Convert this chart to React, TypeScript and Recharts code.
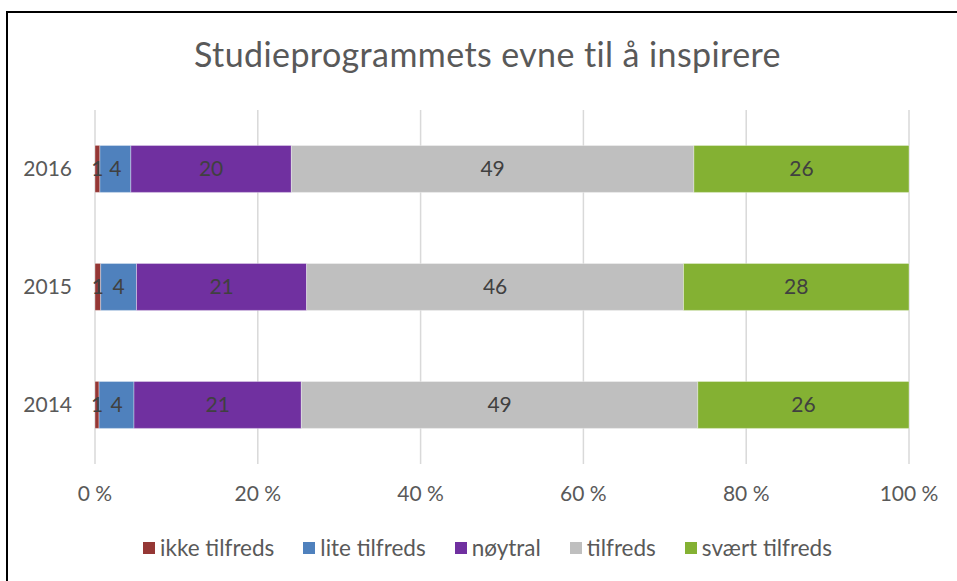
import React from "react";
import { BarChart, Bar, XAxis, YAxis, CartesianGrid, LabelList } from "recharts";

const years = ["2016", "2015", "2014"];
const ikkeTilfreds = [0.6, 0.7, 0.5];
const liteTilfreds = [3.8, 4.4, 4.3];
const noytral = [19.7, 20.9, 20.6];
const tilfreds = [49.4, 46.3, 48.8];
const svaertTilfreds = [26.4, 27.7, 26.0];
const xTicks = [0, 0.2, 0.4, 0.6, 0.8, 1];

const seriesNames = ["ikke tilfreds", "lite tilfreds", "nøytral", "tilfreds", "svært tilfreds"];
const seriesColors = ["#953735", "#4f81bd", "#7030a0", "#bfbfbf", "#84b133"];
const seriesValues = [ikkeTilfreds, liteTilfreds, noytral, tilfreds, svaertTilfreds];

const data = years.map((y, i) => {
  const row: any = { year: y };
  seriesNames.forEach((n, s) => {
    row[n] = seriesValues[s][i];
  });
  return row;
});

const FONT = "Lato, 'Open Sans', sans-serif";
const TEXT = "#595959";

export default function App() {
  return (
    <div style={{ position: "fixed", left: 0, top: 0, width: 957, height: 581, overflow: "hidden", background: "#fff" }}>
      <div style={{ position: "absolute", left: 6, top: 11, width: 1200, height: 1200, border: "2px solid #000", boxSizing: "border-box" }} />
      <div style={{ position: "absolute", left: 0, top: 34, width: 975, textAlign: "center", fontFamily: FONT, fontSize: 34, letterSpacing: 0.4, color: TEXT, lineHeight: "40px" }}>
        Studieprogrammets evne til å inspirere
      </div>
      <div style={{ position: "absolute", left: 0, top: 0 }}>
        <BarChart
          width={957}
          height={581}
          data={data}
          layout="vertical"
          stackOffset="expand"
          barCategoryGap="30%"
          margin={{ top: 110, right: 48, bottom: 87, left: 0 }}
        >
          <CartesianGrid horizontal={false} vertical={true} stroke="#d9d9d9" strokeWidth={1.5} />
          <XAxis
            type="number"
            domain={[0, 1]}
            ticks={xTicks}
            tickFormatter={(v: number) => `${Math.round(v * 100)} %`}
            axisLine={false}
            tickLine={false}
            tickMargin={16}
            height={30}
            tick={{ fill: TEXT, fontSize: 21, fontFamily: FONT }}
            interval={0}
          />
          <YAxis
            type="category"
            dataKey="year"
            width={95}
            axisLine={false}
            tickLine={false}
            tickSize={0}
            tickMargin={23}
            tick={{ fill: TEXT, fontSize: 21, fontFamily: FONT }}
          />
          {seriesNames.map((n, s) => (
            <Bar key={n} dataKey={n} stackId="a" fill={seriesColors[s]} stroke="#ffffff" strokeOpacity={0.35} strokeWidth={1} isAnimationActive={false}>
              <LabelList
                dataKey={n}
                position="center"
                formatter={(v: any) => Math.round(Number(v))}
                style={{ fill: "#404040", fontSize: 21, fontFamily: FONT }}
              />
            </Bar>
          ))}
        </BarChart>
      </div>
      <div style={{ position: "absolute", left: 0, top: 534, width: 975, display: "flex", justifyContent: "center", alignItems: "center", fontFamily: FONT, fontSize: 22.5, color: TEXT, lineHeight: "28px" }}>
        {seriesNames.map((n, i) => (
          <div key={n} style={{ display: "flex", alignItems: "center", marginRight: i < seriesNames.length - 1 ? 29 : 0 }}>
            <div style={{ width: 12, height: 12, background: seriesColors[i], marginRight: 5 }} />
            <span>{n}</span>
          </div>
        ))}
      </div>
    </div>
  );
}
